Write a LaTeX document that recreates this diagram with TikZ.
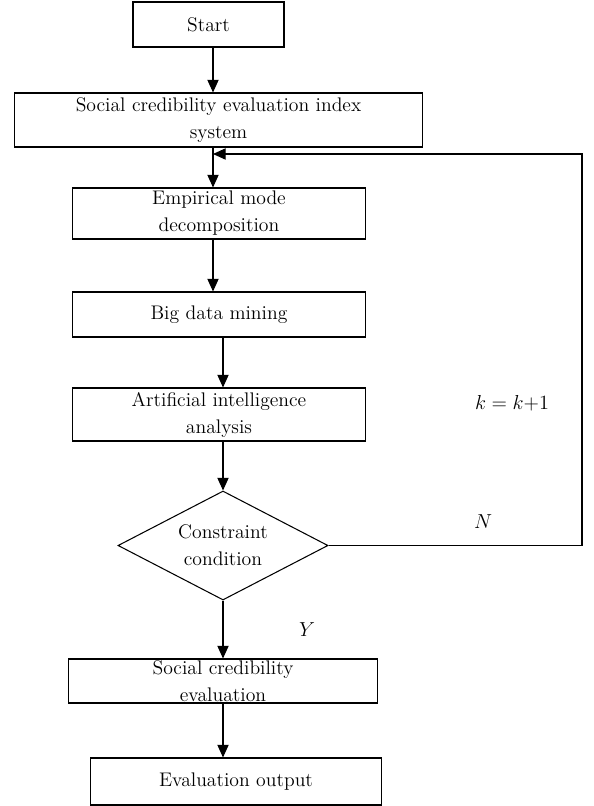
\documentclass[tikz,border=0pt]{standalone}
\usetikzlibrary{shapes.geometric,arrows.meta}
\tikzset{
  box/.style={draw, line width=0.75pt, align=center, inner sep=0pt},
  arr/.style={line width=0.75pt, -{Triangle[length=9pt,width=8pt]}}
}
\begin{document}
\begin{tikzpicture}[x=0.025cm, y=-0.025cm, font=\fontsize{14}{19.2}\selectfont]
\useasboundingbox (0,0) rectangle (593,806);
% flow boxes
\node[box, minimum width=3.775cm, minimum height=1.125cm] (start) at (208.5,24.5) {Start};
\node[box, minimum width=10.175cm, minimum height=1.35cm] (index) at (218.5,120) {Social credibility evaluation index\\system};
\node[box, minimum width=7.3cm, minimum height=1.275cm] (emd) at (219,213.5) {Empirical mode\\decomposition};
\node[box, minimum width=7.3cm, minimum height=1.125cm] (mining) at (219,314.5) {Big data mining};
\node[box, minimum width=7.3cm, minimum height=1.325cm] (aia) at (219,414.5) {Artificial intelligence\\analysis};
\node[box, diamond, shape aspect=2, minimum width=5.25cm, minimum height=2.725cm] (cond) at (223,545.5) {Constraint\\condition};
\node[box, minimum width=7.7cm, minimum height=1.1cm] (seval) at (223,681) {Social credibility\\evaluation};
\node[box, minimum width=7.25cm, minimum height=1.175cm] (output) at (236,781.5) {Evaluation output};
% arrow columns
\coordinate (colA) at (213,0);
\coordinate (colB) at (223,0);
\coordinate (loop) at (582,154);
\draw[arr] (start.south -| colA) -- (index.north -| colA);
\draw[arr] (index.south -| colA) -- (emd.north -| colA);
\draw[arr] (emd.south -| colA) -- (mining.north -| colA);
\draw[arr] (mining.south -| colB) -- (aia.north -| colB);
\draw[arr] (aia.south -| colB) -- (cond.north);
\draw[arr] (cond.south) -- (seval.north -| colB);
\draw[arr] (seval.south -| colB) -- (output.north -| colB);
\draw[arr] (cond.east) -| (loop) -- (colA |- loop); % back to the index system
% labels
\node (no) at (483,522) {$N$};
\node (yes) at (307,630) {$Y$};
\node (incr) at (512,403) {$k = k{+}1$};
\end{tikzpicture}
\end{document}
